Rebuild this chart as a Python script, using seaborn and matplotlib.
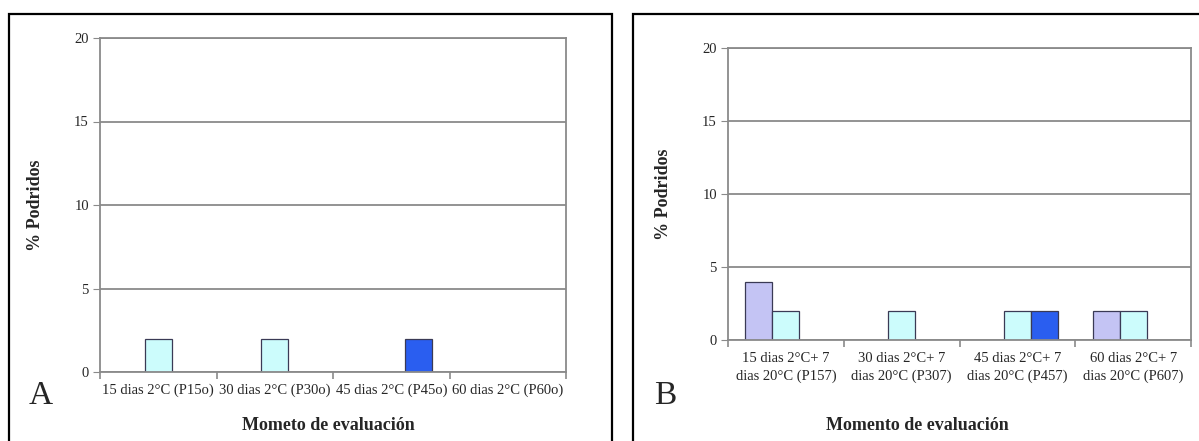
import pandas as pd
import numpy as np
import matplotlib
matplotlib.use("Agg")
import matplotlib.pyplot as plt
import seaborn as sns
from matplotlib.ticker import FixedLocator

# ------------------------------------------------------------
# data
# ------------------------------------------------------------
series = ["Serie 1", "Serie 2", "Serie 3"]
colors = ["#c4c4f4", "#ccfcfc", "#2a5ef0"]

cats_a = ["15 dias 2°C (P15o)", "30 dias 2°C (P30o)",
          "45 dias 2°C (P45o)", "60 dias 2°C (P60o)"]
a_s1 = [0, 0, 0, 0]
a_s2 = [2, 2, 0, 0]
a_s3 = [0, 0, 2, 0]

cats_b = ["15 dias 2°C+ 7\ndias 20°C (P157)", "30 dias 2°C+ 7\ndias 20°C (P307)",
          "45 dias 2°C+ 7\ndias 20°C (P457)", "60 dias 2°C+ 7\ndias 20°C (P607)"]
b_s1 = [4, 0, 0, 2]
b_s2 = [2, 2, 2, 2]
b_s3 = [0, 0, 2, 0]

y_ticks = [0, 5, 10, 15, 20]


def long_df(cats, s1, s2, s3):
    rows = []
    for name, vals in zip(series, [s1, s2, s3]):
        for c, v in zip(cats, vals):
            rows.append({"cat": c, "serie": name, "val": v})
    return pd.DataFrame(rows)


sns.set_style("white")
plt.rcParams["font.family"] = ["Liberation Serif", "DejaVu Serif"]

W, H = 1199, 441
fig = plt.figure(figsize=(W / 100, H / 100), dpi=100)


def px_axes(x0, x1, ytop, ybot):
    return fig.add_axes([x0 / W, 1 - ybot / H, (x1 - x0) / W, (ybot - ytop) / H])


def draw_panel(ax, df, cats, xlabel, xlab_x, xlab_y, ylab_x, xpad):
    sns.barplot(data=df, x="cat", y="val", hue="serie", hue_order=series,
                order=cats, palette=colors, saturation=1, width=0.7,
                edgecolor="#3a3a55", linewidth=0.9, ax=ax, legend=False)
    for p in ax.patches:
        if p.get_height() == 0:
            p.set_visible(False)
    ax.set_ylim(0, 20)
    ax.set_xlim(-0.5, len(cats) - 0.5)
    ax.set_yticks(y_ticks)
    ax.yaxis.grid(True, color="#8a8a8a", linewidth=1.3)
    ax.set_axisbelow(True)
    for s in ["left", "bottom", "right", "top"]:
        ax.spines[s].set_color("#8a8a8a")
        ax.spines[s].set_linewidth(1.3)
        ax.spines[s].set_visible(True)
    ax.tick_params(axis="y", left=True, length=5, color="#8a8a8a",
                   labelsize=10.5, pad=3)
    ax.tick_params(axis="x", which="major", length=0, labelsize=10.5, pad=xpad)
    for t in ax.get_xticklabels():
        t.set_linespacing(1.35)
    ax.xaxis.set_minor_locator(FixedLocator(np.arange(-0.5, len(cats), 1.0)))
    ax.tick_params(axis="x", which="minor", bottom=True, length=5,
                   color="#8a8a8a", width=1.2)
    ax.set_xlabel(xlabel, fontsize=13, fontweight="bold")
    ax.set_ylabel("% Podridos", fontsize=13, fontweight="bold")
    ax.xaxis.set_label_coords(xlab_x, xlab_y)
    ax.yaxis.set_label_coords(ylab_x, 0.5)


ax_a = px_axes(100, 566, 38, 372)
draw_panel(ax_a, long_df(cats_a, a_s1, a_s2, a_s3), cats_a,
           "Mometo de evaluación", 0.49, -0.135, -0.12, 8)

ax_b = px_axes(728, 1191, 48, 340)
draw_panel(ax_b, long_df(cats_b, b_s1, b_s2, b_s3), cats_b,
           "Momento de evaluación", 0.41, -0.265, -0.12, 9)

# outer frames of the two panels
fig.add_artist(plt.Rectangle((9 / W, -0.05), (612 - 9) / W, 1.05 - 14 / H,
                             transform=fig.transFigure, fill=False,
                             edgecolor="black", linewidth=1.6))
fig.add_artist(plt.Rectangle((633 / W, -0.05), 0.5, 1.05 - 14 / H,
                             transform=fig.transFigure, fill=False,
                             edgecolor="black", linewidth=1.6))

fig.text(41 / W, 1 - 396 / H, "A", fontsize=24, ha="center", va="center")
fig.text(665 / W, 1 - 396 / H, "B", fontsize=24, ha="center", va="center")

fig.savefig("out.png", dpi=100)
